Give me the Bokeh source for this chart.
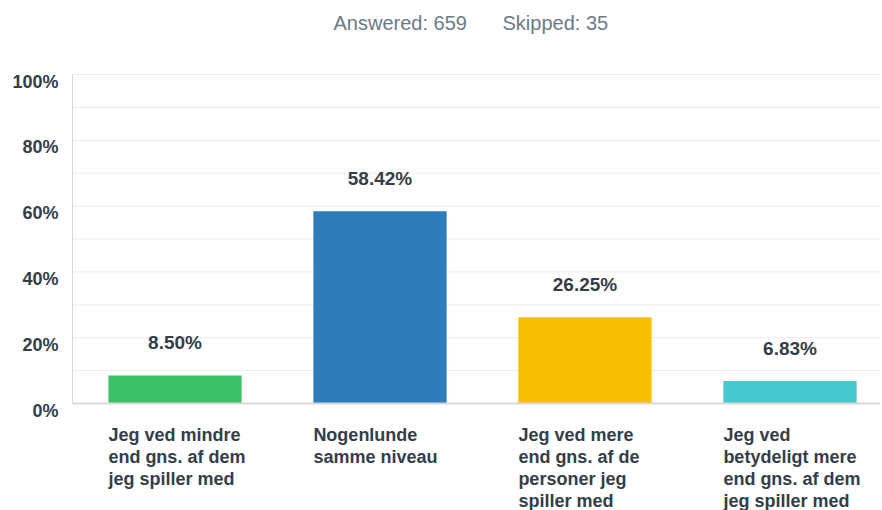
from bokeh.plotting import figure
from bokeh.models import ColumnDataSource, Range1d
from bokeh.core.properties import value
from bokeh.embed import file_html
from bokeh.resources import INLINE

answered = 659
skipped = 35
categories = [
    "Jeg ved mindre\nend gns. af dem\njeg spiller med",
    "Nogenlunde\nsamme niveau",
    "Jeg ved mere\nend gns. af de\npersoner jeg\nspiller med",
    "Jeg ved\nbetydeligt mere\nend gns. af dem\njeg spiller med",
]
values = [8.50, 58.42, 26.25, 6.83]
colors = ["#3cc16a", "#2e7cb8", "#f8bf00", "#45c9cf"]
y_ticks = [0, 20, 40, 60, 80, 100]
grid_vals = [10, 20, 30, 40, 50, 60, 70, 80, 90, 100]

# ---- layout (pixels) ----
W, H = 880, 510
X0_PX = 72          # pixel of category-axis origin
CAT_PX = 205        # pixels per category
Y0_PX = 403         # pixel row of 0%
PX_PER_PCT = 3.29   # pixels per percentage point


def dx(px):  # horizontal pixel -> data
    return (px - X0_PX) / CAT_PX


def dy(py):  # vertical pixel (from top) -> data
    return (Y0_PX - py) / PX_PER_PCT


FONT = value("Liberation Sans")
text_col = "#333e48"
BAR_W = 0.65

p = figure(width=W, height=H, output_backend="svg", toolbar_location=None,
           x_range=Range1d(dx(0), dx(W)), y_range=Range1d(dy(H), dy(0)),
           x_axis_type=None, y_axis_type=None, min_border=0)
p.outline_line_color = None
p.background_fill_color = "white"

x_end = dx(W)
# grid lines
p.segment(x0=[0] * len(grid_vals), x1=[x_end] * len(grid_vals), y0=grid_vals, y1=grid_vals,
          line_color="#ebebeb", line_width=1)
# y axis line
p.segment(x0=[0], x1=[0], y0=[min(y_ticks)], y1=[max(y_ticks)], line_color="#d9d9d9",
          line_width=1)

pos = [i + 0.5 for i in range(len(categories))]
src = ColumnDataSource(dict(
    x=pos,
    left=[c - BAR_W / 2 for c in pos],
    top=values,
    color=colors,
    vlabel=[f"{v:.2f}%" for v in values],
    vy=[v + 33 / PX_PER_PCT for v in values],
    cat=categories,
))

p.vbar(x="x", top="top", bottom=0, width=BAR_W, fill_color="color",
       line_color=None, source=src)

# baseline
p.segment(x0=[0], x1=[x_end], y0=[0], y1=[0], line_color="#d9d9d9", line_width=2)

# value labels
p.text(x="x", y="vy", text="vlabel", source=src, text_align="center",
       text_baseline="middle", text_font=FONT, text_font_style="bold",
       text_font_size="19px", text_color=text_col)

# category labels
p.text(x="left", y=dy(424), text="cat", source=src, text_align="left",
       text_baseline="top", text_font=FONT, text_font_style="bold",
       text_font_size="18px", text_color=text_col, text_line_height=1.1)

# y tick labels
p.text(x=[dx(58)] * len(y_ticks), y=[t - 7 / PX_PER_PCT for t in y_ticks],
       text=[f"{t}%" for t in y_ticks], text_align="right", text_baseline="middle",
       text_font=FONT, text_font_style="bold", text_font_size="18px",
       text_color=text_col)

# header
p.text(x=[dx(333), dx(502)], y=[dy(22), dy(22)],
       text=[f"Answered: {answered}", f"Skipped: {skipped}"],
       text_align="left", text_baseline="middle", text_font=FONT,
       text_font_size="20px", text_color="#6b7a87")

open("out.html", "w").write(file_html(p, INLINE))
